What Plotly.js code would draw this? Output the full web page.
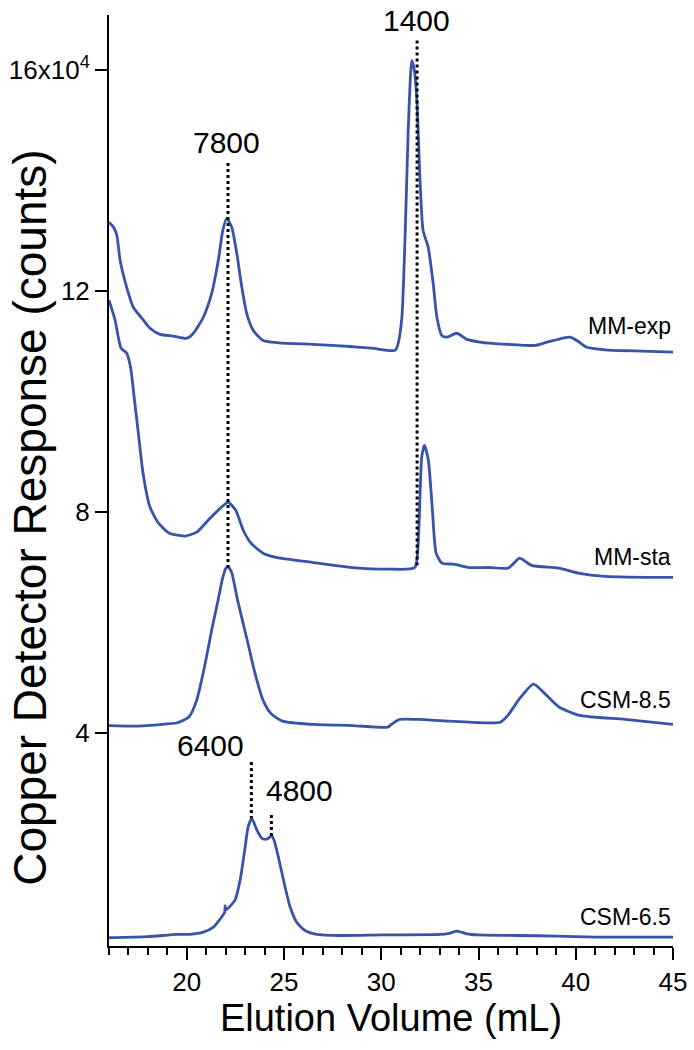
<!DOCTYPE html>
<html>
<head>
<meta charset="utf-8">
<script src="https://cdn.plot.ly/plotly-3.0.1.min.js"></script>
<style>html,body{margin:0;padding:0;background:#fff;}</style>
</head>
<body>
<div id="chart" style="width:694px;height:1050px;"></div>
<script>
// Elution volume (mL) and copper detector response (units of 10^4 counts)
const mmExpX = [16.0,16.25,16.41,16.57,16.91,17.25,17.76,18.11,18.62,19.3,20.0,20.34,20.85,21.28,21.62,21.85,22.05,22.31,22.57,22.83,23.08,23.42,23.93,24.96,26.5,28.4,29.5,30.71,30.87,31.06,31.23,31.38,31.5,31.57,31.7,31.83,32.0,32.15,32.41,32.67,32.86,33.11,33.37,33.88,34.4,35.08,35.52,37.0,37.91,38.53,39.2,39.71,40.1,40.54,41.51,43.0,45.0];
const mmExpY = [13.25,13.15,13.0,12.56,12.07,11.71,11.48,11.33,11.22,11.19,11.15,11.24,11.53,11.96,12.56,13.10,13.32,13.16,12.69,12.07,11.60,11.29,11.11,11.06,11.04,11.0,10.97,10.93,11.06,11.53,13.05,14.86,15.9,16.18,16.0,15.46,13.95,13.10,12.80,12.14,11.53,11.20,11.17,11.24,11.13,11.08,11.06,11.03,11.02,11.08,11.14,11.17,11.1,10.99,10.94,10.92,10.90];

const mmStaX = [16.0,16.31,16.62,16.91,17.11,17.31,17.51,17.71,17.9,18.11,18.51,19.11,19.91,20.51,21.11,21.71,22.12,22.51,22.91,23.3,23.92,24.52,26.52,28.52,30.52,31.72,31.92,32.08,32.22,32.42,32.62,32.82,33.12,33.72,34.52,35.52,36.52,36.82,37.12,37.72,39.12,40.12,41.51,45.0];
const mmStaY = [11.84,11.48,10.97,10.88,10.62,10.03,9.43,8.81,8.40,8.09,7.82,7.62,7.57,7.64,7.86,8.07,8.18,8.04,7.67,7.44,7.26,7.19,7.09,7.00,6.97,7.00,7.62,9.00,9.21,8.94,8.09,7.26,7.08,7.06,7.00,7.00,6.99,7.08,7.17,7.04,6.99,6.90,6.84,6.82];

const csm85X = [16.0,17.51,19.0,19.51,20.12,20.51,20.91,21.31,21.61,21.85,22.0,22.12,22.3,22.61,23.11,23.51,23.92,24.32,24.92,26.52,28.52,30.32,30.52,30.92,31.92,33.52,36.12,36.52,37.12,37.82,38.32,39.12,40.12,42.53,45.0];
const csm85Y = [4.14,4.13,4.17,4.19,4.30,4.60,5.20,5.92,6.41,6.82,6.98,7.01,6.92,6.41,5.68,5.08,4.60,4.36,4.22,4.16,4.14,4.11,4.16,4.25,4.25,4.22,4.20,4.33,4.63,4.89,4.75,4.48,4.33,4.25,4.16];

const csm65X = [16.0,18.0,19.5,20.17,20.85,21.37,21.8,21.95,21.97,22.0,22.48,22.74,23.0,23.15,23.34,23.6,23.85,24.03,24.2,24.37,24.5,24.71,25.05,25.31,25.65,26.08,26.68,27.88,30.0,33.0,33.5,33.9,34.4,35.0,37.0,39.0,41.0,43.0,45.0];
const csm65Y = [0.30,0.32,0.36,0.36,0.40,0.49,0.68,0.76,0.88,0.80,0.98,1.34,1.94,2.30,2.46,2.25,2.10,2.08,2.10,2.15,2.05,1.76,1.22,0.86,0.58,0.43,0.36,0.34,0.35,0.36,0.38,0.42,0.37,0.35,0.34,0.33,0.31,0.31,0.31];

const seriesNames = ["MM-exp","MM-sta","CSM-8.5","CSM-6.5"];
const labelY = [11.38, 7.19, 4.60, 0.67];

// Molecular weight markers: label, x position, line from yTop to yBottom, label position
const markerLabels = ["7800","1400","6400","4800"];
const markerX = [22.12, 31.84, 23.32, 24.35];
const markerTop = [14.32, 16.54, 3.48, 2.52];
const markerBottom = [7.00, 7.04, 2.46, 2.10];
const markerLabelX = [22.02, 31.79, 21.2, 25.82];
const markerLabelY = [14.70, 16.9, 3.78, 2.97];

const xTicks = [20,25,30,35,40,45];
const yTickVals = [4,8,12,16];
const yTickText = ["4","8","12","16x10<sup>4</sup>"];

const blue = "rgb(56,84,170)";
const font = "'Liberation Sans', Arial, sans-serif";

const data = [];
const xs = [mmExpX, mmStaX, csm85X, csm65X];
const ys = [mmExpY, mmStaY, csm85Y, csm65Y];
for (let i = 0; i < 4; i++) {
  data.push({x: xs[i], y: ys[i], name: seriesNames[i], type: "scatter", mode: "lines",
    line: {color: blue, width: 2.8, shape: "spline", smoothing: 0.6}, showlegend: false, hoverinfo: "x+y"});
}
for (let i = 0; i < markerLabels.length; i++) {
  data.push({x: [markerX[i], markerX[i]], y: [markerTop[i], markerBottom[i]], type: "scatter", mode: "lines",
    line: {color: "black", width: 3, dash: "dot"}, showlegend: false, hoverinfo: "skip"});
}

const annotations = [];
for (let i = 0; i < 4; i++) {
  annotations.push({x: 45, y: labelY[i], xref: "x", yref: "y", text: seriesNames[i], showarrow: false,
    xanchor: "right", yanchor: "middle", font: {family: font, size: 23, color: "black"}});
}
for (let i = 0; i < markerLabels.length; i++) {
  annotations.push({x: markerLabelX[i], y: markerLabelY[i], xref: "x", yref: "y", text: markerLabels[i], showarrow: false,
    xanchor: "center", yanchor: "middle", font: {family: font, size: 30, color: "black"}});
}
annotations.push({x: -0.14, y: 0.46, xref: "paper", yref: "paper", text: "Copper Detector Response (counts)",
  textangle: -90, showarrow: false, xanchor: "center", yanchor: "middle", font: {family: font, size: 46, color: "black"}});

const layout = {
  width: 694, height: 1050,
  margin: {l: 109, r: 21, t: 15, b: 104},
  paper_bgcolor: "white", plot_bgcolor: "white",
  font: {family: font, color: "black"},
  xaxis: {
    range: [16, 45], showgrid: false, zeroline: false,
    showline: true, linecolor: "black", linewidth: 2,
    tickvals: xTicks, ticks: "outside", ticklen: 12, tickwidth: 2, tickcolor: "black",
    tickfont: {family: font, size: 26, color: "black"},
    minor: {dtick: 1, tick0: 0, ticks: "outside", ticklen: 7, tickwidth: 2, tickcolor: "black", showgrid: false},
    title: {text: "Elution Volume (mL)", font: {family: font, size: 38, color: "black"}, standoff: 8}
  },
  yaxis: {
    range: [0.15, 17.0], showgrid: false, zeroline: false,
    showline: true, linecolor: "black", linewidth: 2,
    tickvals: yTickVals, ticktext: yTickText, ticks: "outside", ticklen: 12, tickwidth: 2, tickcolor: "black",
    tickfont: {family: font, size: 26, color: "black"}
  },
  annotations: annotations
};

Plotly.newPlot("chart", data, layout, {staticPlot: true, displayModeBar: false});
</script>
</body>
</html>
